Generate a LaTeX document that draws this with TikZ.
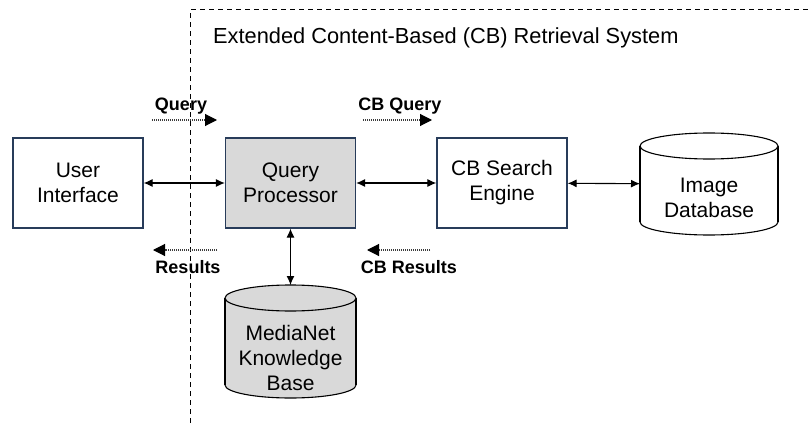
\documentclass[tikz,border=0pt]{standalone}
\usepackage{fontspec}
\setmainfont{Liberation Sans}
\usetikzlibrary{arrows.meta}
\definecolor{boxline}{RGB}{40,60,90}
\definecolor{boxfill}{RGB}{217,217,217}
\definecolor{dotcol}{RGB}{60,60,60}
\begin{document}
\begin{tikzpicture}[x=1pt,y=-1pt,
  box/.style={draw=boxline, line width=1.2pt, minimum width=130pt, minimum height=90pt,
    align=center, font=\fontsize{21}{25}\selectfont, inner sep=0pt},
  cyltext/.style={align=center, font=\fontsize{21}{25}\selectfont, inner sep=0pt},
  cylline/.style={draw=black, line width=1.1pt},
  holder/.style={inner sep=0pt, outer sep=0pt},
  conn/.style={line width=1.1pt, {Latex[length=9pt,width=8pt]}-{Latex[length=9pt,width=8pt]}},
  flow/.style={draw=dotcol, line width=1.1pt, dash pattern=on 1pt off 1pt,
    -{Triangle[length=12pt,width=12pt,fill=black,color=black]}},
  lbl/.style={font=\fontsize{18}{21}\selectfont\bfseries, inner sep=0pt, anchor=base},
  border/.style={line width=1pt, dash pattern=on 5pt off 4pt}
]
\useasboundingbox (0,0) rectangle (811,425);

% system boundary
\coordinate (b1) at (190,423);
\coordinate (b2) at (190,10);
\coordinate (b3) at (811,10);
\draw[border] (b1) -- (b2) -- (b3);

\node[anchor=base west, inner sep=0pt, font=\fontsize{21.8}{25}\selectfont] (title) at (213,44)
  {Extended Content-Based (CB) Retrieval System};

% boxes
\node[box, fill=white] (ui) at (78,183) {User\\Interface};
\node[box, fill=boxfill] (qp) at (290.5,183) {Query\\Processor};
\node[box, fill=white] (cb) at (502,183) {CB Search\\Engine};

% Image Database cylinder
\fill[white] (709,222) ellipse [x radius=69, y radius=13];
\fill[white] (640,146) rectangle (778,222);
\draw[cylline] (640,146) -- (640,222);
\draw[cylline] (778,146) -- (778,222);
\begin{scope}
  \clip (630,222) rectangle (790,240);
  \draw[cylline] (709,222) ellipse [x radius=69, y radius=13];
\end{scope}
\draw[cylline, fill=white] (709,146) ellipse [x radius=69, y radius=13];
\node[holder, minimum width=138pt, minimum height=102pt] (imgdb) at (709,184) {};
\node[cyltext] (imgdbtxt) at (709,198) {Image\\Database};

% MediaNet cylinder
\fill[boxfill] (290.5,385) ellipse [x radius=65.5, y radius=13];
\fill[boxfill] (225,298) rectangle (356,385);
\draw[cylline] (225,298) -- (225,385);
\draw[cylline] (356,298) -- (356,385);
\begin{scope}
  \clip (215,385) rectangle (366,402);
  \draw[cylline] (290.5,385) ellipse [x radius=65.5, y radius=13];
\end{scope}
\draw[cylline, fill=boxfill] (290.5,298) ellipse [x radius=65.5, y radius=13];
\node[holder, minimum width=131pt, minimum height=113pt] (mkb) at (290.5,341.5) {};
\node[cyltext] (mkbtxt) at (290.5,358) {MediaNet\\Knowledge\\Base};

% connectors
\draw[conn] (ui) -- (qp);
\draw[conn] (qp) -- (cb);
\draw[conn] (cb) -- (imgdb);
\draw[conn] (qp) -- (mkb);

% flow arrows
\coordinate (q1) at (152,120); \coordinate (q2) at (217,120);
\coordinate (c1) at (363,120); \coordinate (c2) at (432,120);
\coordinate (r1) at (217,250); \coordinate (r2) at (153,250);
\coordinate (s1) at (430,250); \coordinate (s2) at (367,250);
\draw[flow] (q1) -- (q2);
\draw[flow] (c1) -- (c2);
\draw[flow] (r1) -- (r2);
\draw[flow] (s1) -- (s2);

\node[lbl] (lq) at (181,111) {Query};
\node[lbl] (lcq) at (400,111) {CB Query};
\node[lbl] (lr) at (188,273) {Results};
\node[lbl] (lcr) at (409,273) {CB Results};
\end{tikzpicture}
\end{document}
